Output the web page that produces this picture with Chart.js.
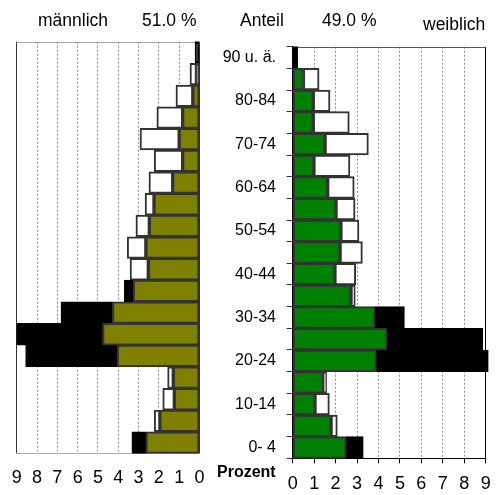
<!DOCTYPE html>
<html><head><meta charset="utf-8">
<script src="https://cdn.jsdelivr.net/npm/chart.js@4/dist/chart.umd.min.js"></script>
<style>
html,body{margin:0;padding:0;background:#fff;}
#wrap{position:relative;width:497px;height:495px;overflow:hidden;font-family:"Liberation Sans",Arial,sans-serif;color:#000;}
canvas{position:absolute;top:0;}
.t{position:absolute;white-space:nowrap;font-size:17.5px;line-height:17.5px;}
.p{position:absolute;white-space:nowrap;font-size:16px;line-height:16px;font-weight:bold;}
</style></head><body>
<div id="wrap">
<canvas id="cm" width="215" height="495" style="left:0"></canvas>
<canvas id="cf" width="282" height="495" style="left:215px"></canvas>
<div class="t" style="left:38px;top:12px">männlich</div>
<div class="t" style="left:142px;top:12px">51.0 %</div>
<div class="t" style="left:240px;top:12px">Anteil</div>
<div class="t" style="left:322px;top:12px">49.0 %</div>
<div class="t" style="left:423px;top:16px">weiblich</div>
<div class="p" style="left:217px;top:464px">Prozent</div>
</div>
<script>
// Age groups, top to bottom
const ageGroups = ['90 u. ä.','85-89','80-84','75-79','70-74','65-69','60-64','55-59','50-54','45-49','40-44','35-39','30-34','25-29','20-24','15-19','10-14','5-9','0- 4'];
// Share in % (region) and comparison share in %
const maleShare   = [0.22,0.15,0.33,0.83,1.00,0.83,1.32,2.24,2.47,2.64,2.52,3.70,6.82,9.00,8.56,1.29,1.24,1.95,3.33];
const maleRef     = [0.00,0.47,1.16,2.10,2.93,2.23,2.49,2.68,3.13,3.56,3.42,3.26,4.28,4.77,4.05,1.57,1.81,2.23,2.64];
const femaleShare = [0.23,0.50,0.96,0.96,1.51,0.99,1.63,2.02,2.25,2.21,1.97,2.72,5.21,8.86,9.12,1.43,1.04,1.79,3.29];
const femaleRef   = [0.00,1.23,1.74,2.64,3.53,2.67,2.87,2.91,3.09,3.25,2.94,2.92,3.84,4.40,3.90,1.58,1.71,2.08,2.49];
const xTickLabels = ['0','1','2','3','4','5','6','7','8','9'];

const FONT = '"Liberation Sans", Arial, sans-serif';

function build(a, b, color) {
  const base = a.map((v, i) => Math.min(v, b[i]));
  const diff = a.map((v, i) => Math.abs(v - b[i]));
  const fill = a.map((v, i) => v > b[i] ? '#000' : '#fff');
  const edge = a.map((v, i) => v > b[i] ? '#000' : '#333');
  return [
    {data: base, backgroundColor: color, borderColor: '#333', borderWidth: 2, borderSkipped: false, clip: false},
    {data: diff, backgroundColor: fill, borderColor: edge, borderWidth: 2, borderSkipped: false, clip: false}
  ];
}

const frame = {
  id: 'frame',
  beforeDatasetsDraw(chart, args, opts) {
    const {ctx, chartArea: a} = chart;
    ctx.save();
    ctx.strokeStyle = opts.topColor;
    ctx.lineWidth = 1;
    const y = Math.round(a.top) + 0.5;
    ctx.beginPath(); ctx.moveTo(a.left, y); ctx.lineTo(a.right, y); ctx.stroke();
    ctx.restore();
  }
};

const isEdge = c => c.tick && (c.tick.value === 9 || c.tick.value === 0);
const fixX = h => s => { s.height = h; s.paddingLeft = 0; s.paddingRight = 0; };

new Chart(document.getElementById('cm'), {
  type: 'bar',
  data: {labels: ageGroups, datasets: build(maleShare, maleRef, '#808000')},
  options: {
    indexAxis: 'y', responsive: false, animation: false,
    layout: {padding: {left: 16.7, right: 15.5, top: 41.7, bottom: 0}},
    plugins: {legend: {display: false}, tooltip: {enabled: false}, frame: {topColor: '#aaa'}},
    datasets: {bar: {barPercentage: 1, categoryPercentage: 1}},
    scales: {
      x: {
        stacked: true, reverse: true, min: 0, max: 9,
        afterFit: fixX(41.6),
        ticks: {stepSize: 1, font: {size: 18, family: FONT}, color: '#000', padding: 14, maxRotation: 0, autoSkip: false,
                callback: v => xTickLabels[v]},
        grid: {color: c => isEdge(c) ? '#333' : '#888', drawTicks: false, lineWidth: 1},
        border: {color: '#aaa', dash: c => isEdge(c) ? [] : [2, 2]}
      },
      y: {stacked: true, display: false}
    }
  },
  plugins: [frame]
});

new Chart(document.getElementById('cf'), {
  type: 'bar',
  data: {labels: ageGroups, datasets: build(femaleShare, femaleRef, '#008000')},
  options: {
    indexAxis: 'y', responsive: false, animation: false,
    layout: {padding: {left: 0, right: 11.3, top: 46.7, bottom: 0}},
    plugins: {legend: {display: false}, tooltip: {enabled: false}, frame: {topColor: '#555'}},
    datasets: {bar: {barPercentage: 1, categoryPercentage: 1}},
    scales: {
      x: {
        stacked: true, min: 0, max: 9,
        afterFit: fixX(36.7),
        ticks: {stepSize: 1, font: {size: 18, family: FONT}, color: '#000', padding: 10.4, maxRotation: 0, autoSkip: false,
                callback: v => xTickLabels[v]},
        grid: {color: c => isEdge(c) ? '#000' : '#888', drawTicks: true, tickLength: 5, tickColor: '#000', tickBorderDash: [], lineWidth: 1},
        border: {color: '#000', dash: c => isEdge(c) ? [] : [2, 2]}
      },
      y: {
        stacked: true,
        afterFit: s => { s.width = 77.7; },
        ticks: {autoSkip: false, font: {size: 16, family: FONT}, color: '#000', padding: 10.7,
                callback: (v, i) => i % 2 === 0 ? ageGroups[i] : ''},
        grid: {drawOnChartArea: false, drawTicks: true, tickLength: 6, tickColor: '#333', offset: true},
        border: {color: '#000'}
      }
    }
  },
  plugins: [frame]
});
</script>
</body></html>
